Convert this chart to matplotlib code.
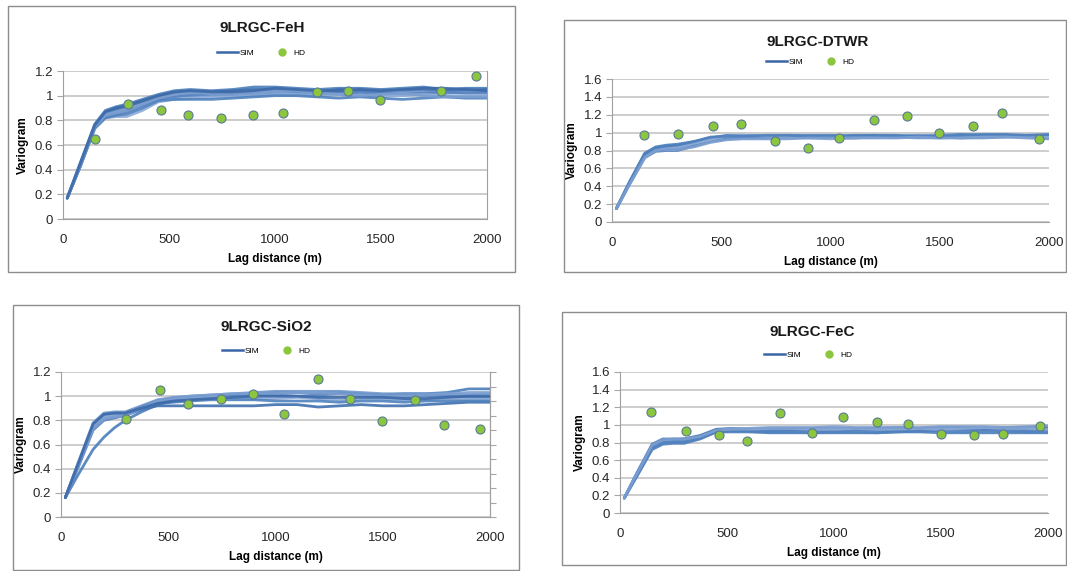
import matplotlib.pyplot as plt
from matplotlib.patches import Rectangle
from matplotlib.lines import Line2D
from matplotlib.ticker import MultipleLocator, FuncFormatter

plt.rcParams['font.family'] = ['Liberation Sans', 'DejaVu Sans']

W, H = 1067, 571

# lag distances (m) of the simulated variogram points
sim_lag = [20, 80, 150, 200, 250, 300, 375, 450, 525, 600, 700, 800,
           900, 1000, 1100, 1200, 1300, 1400, 1500, 1600, 1700, 1800, 1900, 2000]

# ---- 9LRGC-FeH
feh_sim = [
    [0.17, 0.45, 0.77, 0.88, 0.91, 0.93, 0.97, 1.01, 1.04, 1.05, 1.04, 1.05, 1.07, 1.07, 1.06, 1.05, 1.06, 1.06, 1.05, 1.06, 1.07, 1.05, 1.06, 1.06],
    [0.17, 0.44, 0.76, 0.86, 0.89, 0.91, 0.95, 0.99, 1.02, 1.03, 1.03, 1.04, 1.05, 1.05, 1.04, 1.03, 1.05, 1.04, 1.03, 1.04, 1.05, 1.04, 1.04, 1.05],
    [0.17, 0.43, 0.75, 0.85, 0.87, 0.89, 0.93, 0.98, 1.00, 1.01, 1.02, 1.02, 1.03, 1.04, 1.04, 1.03, 1.03, 1.02, 1.02, 1.03, 1.03, 1.02, 1.03, 1.03],
    [0.17, 0.42, 0.74, 0.83, 0.85, 0.87, 0.92, 0.97, 0.99, 1.00, 1.00, 1.01, 1.01, 1.02, 1.02, 1.01, 1.02, 1.03, 1.02, 1.01, 1.02, 1.03, 1.02, 1.02],
    [0.17, 0.42, 0.73, 0.82, 0.83, 0.83, 0.88, 0.95, 0.97, 0.98, 0.99, 0.99, 1.00, 1.01, 1.01, 1.00, 1.01, 1.00, 1.00, 1.00, 1.01, 1.00, 1.00, 1.00],
    [0.17, 0.42, 0.74, 0.82, 0.84, 0.85, 0.90, 0.96, 0.97, 0.97, 0.97, 0.98, 0.99, 1.00, 1.00, 0.99, 0.98, 0.99, 0.98, 0.97, 0.98, 0.99, 0.98, 0.98],
    [0.17, 0.43, 0.75, 0.84, 0.86, 0.88, 0.93, 0.98, 1.01, 1.03, 1.02, 1.01, 1.02, 1.03, 1.04, 1.02, 1.01, 1.00, 1.01, 1.02, 1.00, 0.99, 0.99, 0.99],
    [0.17, 0.44, 0.76, 0.87, 0.90, 0.92, 0.96, 1.00, 1.03, 1.04, 1.03, 1.03, 1.04, 1.06, 1.05, 1.04, 1.04, 1.05, 1.04, 1.05, 1.06, 1.06, 1.05, 1.04],
]
feh_hd_lag = [150, 305, 460, 590, 745, 895, 1040, 1200, 1345, 1495, 1785, 1950]
feh_hd = [0.65, 0.93, 0.885, 0.84, 0.82, 0.84, 0.86, 1.03, 1.04, 0.965, 1.04, 1.16]

# ---- 9LRGC-DTWR
dtwr_sim = [
    [0.15, 0.45, 0.77, 0.84, 0.86, 0.87, 0.90, 0.94, 0.97, 0.97, 0.96, 0.96, 0.97, 0.97, 0.96, 0.97, 0.97, 0.96, 0.97, 0.98, 0.97, 0.96, 0.97, 0.97],
    [0.15, 0.44, 0.75, 0.82, 0.84, 0.85, 0.89, 0.93, 0.95, 0.95, 0.95, 0.95, 0.96, 0.95, 0.96, 0.96, 0.95, 0.96, 0.95, 0.96, 0.96, 0.97, 0.96, 0.96],
    [0.15, 0.43, 0.74, 0.80, 0.81, 0.82, 0.87, 0.92, 0.94, 0.95, 0.96, 0.97, 0.97, 0.96, 0.95, 0.95, 0.96, 0.97, 0.97, 0.96, 0.95, 0.95, 0.96, 0.95],
    [0.15, 0.42, 0.72, 0.79, 0.80, 0.80, 0.85, 0.90, 0.93, 0.94, 0.94, 0.95, 0.95, 0.95, 0.94, 0.95, 0.96, 0.96, 0.95, 0.94, 0.95, 0.96, 0.95, 0.94],
    [0.15, 0.43, 0.73, 0.81, 0.83, 0.84, 0.88, 0.92, 0.96, 0.97, 0.96, 0.95, 0.94, 0.93, 0.94, 0.95, 0.95, 0.94, 0.94, 0.95, 0.96, 0.96, 0.95, 0.95],
    [0.15, 0.44, 0.76, 0.83, 0.85, 0.86, 0.90, 0.95, 0.96, 0.96, 0.97, 0.97, 0.96, 0.96, 0.97, 0.97, 0.96, 0.95, 0.96, 0.97, 0.98, 0.98, 0.97, 0.98],
    [0.15, 0.42, 0.72, 0.80, 0.81, 0.81, 0.84, 0.89, 0.92, 0.93, 0.93, 0.93, 0.94, 0.94, 0.94, 0.94, 0.94, 0.95, 0.94, 0.94, 0.94, 0.95, 0.94, 0.93],
]
dtwr_hd_lag = [148, 300, 460, 592, 745, 895, 1040, 1200, 1348, 1497, 1650, 1787, 1955]
dtwr_hd = [0.977, 0.985, 1.07, 1.093, 0.91, 0.828, 0.936, 1.138, 1.19, 1.0, 1.074, 1.223, 0.929]

# ---- 9LRGC-SiO2
sio2_sim = [
    [0.16, 0.35, 0.56, 0.66, 0.74, 0.80, 0.87, 0.93, 0.96, 0.98, 1.00, 1.01, 1.02, 1.03, 1.03, 1.03, 1.03, 1.02, 1.01, 1.02, 1.02, 1.03, 1.06, 1.06],
    [0.16, 0.43, 0.74, 0.83, 0.84, 0.85, 0.89, 0.92, 0.92, 0.92, 0.92, 0.92, 0.92, 0.93, 0.93, 0.91, 0.92, 0.93, 0.92, 0.92, 0.93, 0.94, 0.95, 0.95],
    [0.16, 0.45, 0.78, 0.86, 0.87, 0.87, 0.92, 0.97, 0.99, 1.00, 1.01, 1.02, 1.03, 1.04, 1.04, 1.04, 1.04, 1.03, 1.02, 1.02, 1.02, 1.02, 1.01, 1.02],
    [0.16, 0.44, 0.76, 0.84, 0.85, 0.86, 0.91, 0.96, 0.98, 0.99, 1.00, 1.00, 1.01, 1.01, 1.00, 1.01, 1.02, 1.01, 1.00, 0.99, 1.00, 1.00, 0.99, 0.99],
    [0.16, 0.43, 0.75, 0.83, 0.84, 0.85, 0.90, 0.95, 0.97, 0.98, 0.99, 0.99, 0.98, 0.98, 0.99, 0.98, 0.97, 0.98, 0.98, 0.97, 0.97, 0.98, 0.97, 0.97],
    [0.16, 0.41, 0.72, 0.80, 0.82, 0.84, 0.89, 0.94, 0.95, 0.96, 0.97, 0.97, 0.97, 0.96, 0.96, 0.96, 0.95, 0.96, 0.96, 0.95, 0.96, 0.96, 0.96, 0.96],
    [0.16, 0.42, 0.73, 0.81, 0.83, 0.84, 0.90, 0.96, 0.98, 1.00, 1.01, 1.02, 1.02, 1.02, 1.03, 1.03, 1.02, 1.01, 1.00, 1.00, 1.01, 1.02, 1.03, 1.03],
    [0.16, 0.44, 0.77, 0.85, 0.86, 0.86, 0.90, 0.94, 0.96, 0.97, 0.98, 0.99, 1.00, 1.00, 1.00, 0.99, 0.99, 0.99, 0.99, 0.98, 0.98, 0.99, 1.00, 1.00],
]
sio2_hd_lag = [304, 461, 590, 745, 894, 1039, 1200, 1345, 1497, 1649, 1784, 1953]
sio2_hd = [0.814, 1.048, 0.932, 0.974, 1.02, 0.855, 1.139, 0.974, 0.792, 0.966, 0.764, 0.731]

# ---- 9LRGC-FeC
fec_sim = [
    [0.17, 0.46, 0.78, 0.84, 0.84, 0.84, 0.87, 0.94, 0.95, 0.95, 0.95, 0.96, 0.96, 0.96, 0.96, 0.96, 0.97, 0.96, 0.97, 0.97, 0.96, 0.97, 0.97, 0.97],
    [0.17, 0.45, 0.76, 0.82, 0.83, 0.84, 0.88, 0.95, 0.96, 0.94, 0.93, 0.93, 0.94, 0.95, 0.95, 0.94, 0.94, 0.95, 0.96, 0.95, 0.95, 0.96, 0.95, 0.96],
    [0.17, 0.43, 0.73, 0.79, 0.80, 0.80, 0.85, 0.93, 0.94, 0.93, 0.92, 0.92, 0.91, 0.92, 0.92, 0.91, 0.92, 0.93, 0.93, 0.92, 0.93, 0.93, 0.92, 0.92],
    [0.17, 0.42, 0.72, 0.78, 0.79, 0.79, 0.84, 0.92, 0.93, 0.93, 0.93, 0.94, 0.94, 0.93, 0.94, 0.94, 0.93, 0.93, 0.94, 0.94, 0.94, 0.94, 0.93, 0.94],
    [0.17, 0.44, 0.75, 0.81, 0.82, 0.82, 0.86, 0.93, 0.95, 0.95, 0.96, 0.96, 0.95, 0.95, 0.96, 0.95, 0.95, 0.96, 0.95, 0.96, 0.97, 0.96, 0.96, 0.95],
    [0.17, 0.43, 0.74, 0.80, 0.81, 0.81, 0.85, 0.92, 0.92, 0.92, 0.91, 0.91, 0.91, 0.91, 0.91, 0.91, 0.92, 0.92, 0.91, 0.91, 0.91, 0.91, 0.91, 0.91],
    [0.17, 0.45, 0.77, 0.83, 0.84, 0.84, 0.87, 0.94, 0.96, 0.96, 0.97, 0.97, 0.97, 0.98, 0.97, 0.97, 0.97, 0.97, 0.98, 0.98, 0.98, 0.97, 0.98, 0.99],
]
fec_hd_lag = [143, 307, 462, 593, 749, 898, 1044, 1203, 1348, 1502, 1654, 1791, 1961]
fec_hd = [1.148, 0.934, 0.889, 0.813, 1.137, 0.911, 1.084, 1.028, 1.005, 0.9, 0.889, 0.9, 0.986]

sim_colors = ['#4A7EBB', '#3F6FAE', '#7097CB', '#5583C0', '#8EACD8',
              '#4F81BD', '#7B9ED0', '#3D6AA8']


def px_rect(x0, y0, x1, y1):
    # pixel box (top-left origin) -> figure fraction [l, b, w, h]
    return [x0 / W, 1 - y1 / H, (x1 - x0) / W, (y1 - y0) / H]


panels = [
    dict(title='9LRGC-FeH', sim=feh_sim, lag=feh_hd_lag, hd=feh_hd, ymax=1.2,
         border=(8, 6, 515, 272), axes=(63, 71, 487, 219),
         tpos=(262, 28), lpos=(261, 53), right=True, rticks=False),
    dict(title='9LRGC-DTWR', sim=dtwr_sim, lag=dtwr_hd_lag, hd=dtwr_hd, ymax=1.6,
         border=(564, 20, 1066, 272), axes=(612, 79, 1049, 222),
         tpos=(818, 42), lpos=(810, 62), right=False, rticks=False),
    dict(title='9LRGC-SiO2', sim=sio2_sim, lag=sio2_hd_lag, hd=sio2_hd, ymax=1.2,
         border=(13, 305, 519, 570), axes=(61, 372, 490, 517),
         tpos=(266, 327), lpos=(266, 351), right=True, rticks=True),
    dict(title='9LRGC-FeC', sim=fec_sim, lag=fec_hd_lag, hd=fec_hd, ymax=1.6,
         border=(562, 312, 1066, 565), axes=(620, 372, 1048, 513),
         tpos=(812, 332), lpos=(808, 355), right=False, rticks=False),
]

fig = plt.figure(figsize=(W / 100, H / 100), dpi=100)

for p in panels:
    bx = p['border']
    fig.patches.append(Rectangle((bx[0] / W, 1 - bx[3] / H), (bx[2] - bx[0]) / W,
                                 (bx[3] - bx[1]) / H, transform=fig.transFigure,
                                 fill=False, edgecolor='#8C8C8C', lw=1.0))
    ax = fig.add_axes(px_rect(*p['axes']))
    for i, curve in enumerate(p['sim']):
        ax.plot(sim_lag, curve, color=sim_colors[i % len(sim_colors)], lw=2.0,
                alpha=0.9, solid_joinstyle='round', solid_capstyle='round', zorder=3)
    ax.plot(p['lag'], p['hd'], 'o', ls='none', ms=6.5, mfc='#8CC63F',
            mec='#5A7A94', mew=0.8, zorder=5)

    ax.set_xlim(0, 2000)
    ax.set_ylim(0, p['ymax'])
    ax.set_xticks([0, 500, 1000, 1500, 2000])
    ax.yaxis.set_major_locator(MultipleLocator(0.2))
    ax.yaxis.set_major_formatter(FuncFormatter(lambda v, pos: '%g' % round(v, 1)))
    ax.yaxis.grid(True, color='#C0C0C0', lw=1.1)
    ax.set_axisbelow(True)
    ax.tick_params(axis='y', length=4, color='#A6A6A6', pad=3, labelsize=9.5,
                   labelcolor='#262626')
    ax.tick_params(axis='x', length=0, pad=11, labelsize=9.5, labelcolor='#262626')
    ax.spines['top'].set_visible(False)
    ax.spines['right'].set_visible(p['right'])
    for s in ('left', 'bottom', 'right'):
        ax.spines[s].set_color('#A0A0A0')
    ax.set_xlabel('Lag distance (m)', fontsize=8.5, fontweight='bold', labelpad=5)
    ax.set_ylabel('Variogram', fontsize=8.5, fontweight='bold', labelpad=4)

    if p['rticks']:
        ax2 = ax.twinx()
        ax2.set_ylim(0, p['ymax'])
        ax2.yaxis.set_major_locator(MultipleLocator(0.12))
        ax2.tick_params(axis='y', length=4, color='#A6A6A6', labelright=False)
        for s in ('top', 'left', 'bottom'):
            ax2.spines[s].set_visible(False)
        ax2.spines['right'].set_color('#A0A0A0')

    fig.text(p['tpos'][0] / W, 1 - p['tpos'][1] / H, p['title'], ha='center',
             va='center', fontsize=11, fontweight='bold', color='#1a1a1a')
    handles = [Line2D([], [], color='#3A66A7', lw=1.8),
               Line2D([], [], marker='o', ls='none', ms=5, mfc='#8CC63F',
                      mec='#8CC63F')]
    fig.legend(handles, ['SIM', 'HD'], loc='center', ncol=2, frameon=False,
               fontsize=6, handlelength=2.6, handletextpad=0.1, columnspacing=2.0,
               bbox_to_anchor=(p['lpos'][0] / W, 1 - p['lpos'][1] / H))

fig.savefig('out.png', dpi=100, facecolor='white')
